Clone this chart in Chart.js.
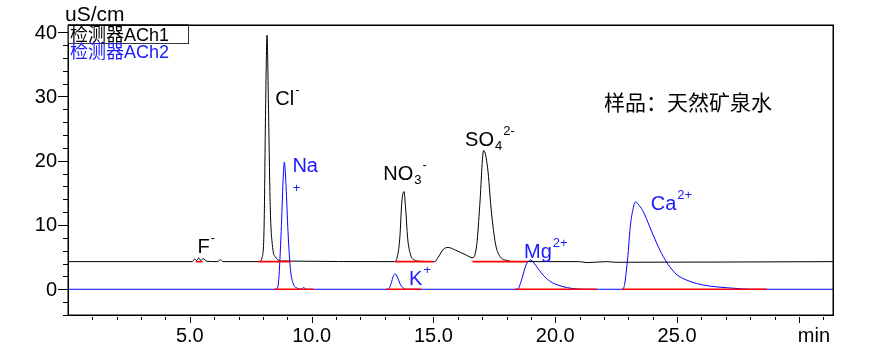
<!DOCTYPE html>
<html>
<head>
<meta charset="utf-8">
<script src="https://cdn.jsdelivr.net/npm/chart.js@4.4.1/dist/chart.umd.min.js"></script>
<style>
body { margin: 0; background: #ffffff; }
canvas { display: block; }
</style>
</head>
<body>
<canvas id="chromChart" width="888" height="349"></canvas>
<script>
// detector ACh1 (anions), min / uS/cm
var ch1Times = [0, 5.1, 5.2, 5.28, 5.36, 5.45, 5.55, 5.7, 6.15, 6.25, 6.35, 7.85, 7.97, 8.05, 8.11, 8.17, 8.23, 8.3, 8.4, 8.52, 8.8,
    13.4, 13.5, 13.62, 13.7, 13.79, 13.86, 13.94, 14.05, 14.25, 14.5, 15.05, 15.2, 15.4, 15.6, 15.9, 16.3, 16.62, 16.78, 16.9, 17.06,
    17.22, 17.38, 17.55, 17.75, 18.0, 18.3, 21.0, 21.3, 22.1, 22.5, 31.4];
var ch1Values = [4.3, 4.3, 4.7, 4.45, 4.85, 4.5, 4.75, 4.35, 4.3, 4.6, 4.3, 4.3, 5.0, 10, 28, 39.5, 28, 13, 6.5, 5.0, 4.4,
    4.3, 4.8, 8, 13.5, 15.2, 12.5, 8, 5.5, 4.5, 4.35, 4.3, 5.0, 6.2, 6.5, 6.1, 5.4, 4.9, 7, 13, 21.6,
    19, 12, 7, 5.0, 4.5, 4.3, 4.3, 4.15, 4.3, 4.2, 4.3];

// detector ACh2 (cations)
var ch2Times = [0, 8.55, 8.65, 8.75, 8.83, 8.88, 8.95, 9.03, 9.12, 9.25, 9.4, 9.6, 9.68, 9.75,
    13.15, 13.26, 13.36, 13.43, 13.52, 13.65, 13.8, 13.9,
    18.45, 18.62, 18.8, 19.0, 19.2, 19.5, 19.8, 20.0, 20.5, 20.9, 21.2,
    22.75, 22.85, 22.93, 23.0, 23.06, 23.17, 23.3, 23.45, 23.61, 23.88, 24.16, 24.43, 24.7, 24.98, 25.38, 25.8, 26.34, 27.0, 27.7, 28.0, 31.4];
var ch2Values = [0, 0, 1.5, 9, 17, 19.8, 16, 9, 3.5, 0.8, 0.2, 0.05, 0.3, 0,
    0, 0.9, 2.1, 2.4, 1.9, 0.7, 0.1, 0,
    0, 1.5, 3.8, 4.55, 3.7, 2.2, 1.2, 0.8, 0.25, 0.05, 0,
    0, 0.8, 3.3, 6, 9.0, 12.1, 13.6, 13.0, 12.1, 9.7, 7.2, 5.1, 3.5, 2.3, 1.45, 0.9, 0.5, 0.25, 0.05, 0, 0];

// integration baselines [start, end]
var ch1BaseLevel = 4.3;
var ch1Baselines = [[5.24, 5.52], [7.81, 9.13], [13.43, 14.99], [16.6, 18.84]];
var ch2BaseLevel = 0;
var ch2Baselines = [[8.47, 10.07], [13.06, 14.49], [18.35, 21.7], [22.73, 28.68]];

var xMajorTicks = [5, 10, 15, 20, 25, 30];
var xTickLabels = ['5.0', '10.0', '15.0', '20.0', '25.0', 'min'];
var yMajorTicks = [0, 10, 20, 30, 40];
var yTickLabels = ['0', '10', '20', '30', '40'];

var seriesNames = ['检测器ACh1', '检测器ACh2'];
var yUnit = 'uS/cm';
var sampleText = '样品：天然矿泉水';

// peak names: parts of [text, 'n' | 'sup' | 'sub'], anchored at [time, value]
var peakLabels = [
    { at: [5.32, 5.65], ch: 0, parts: [['F', 'n'], ['-', 'sup']] },
    { at: [8.51, 28.7], ch: 0, parts: [['Cl', 'n'], ['-', 'sup']] },
    { at: [12.94, 17.0], ch: 0, parts: [['NO', 'n'], ['3', 'sub'], ['-', 'sup']] },
    { at: [16.3, 22.3], ch: 0, parts: [['SO', 'n'], ['4', 'sub'], ['2-', 'sup']] },
    { at: [9.21, 18.2], ch: 1, parts: [['Na', 'n']] },
    { at: [9.22, 15.1], ch: 1, parts: [['+', 'sup0']] },
    { at: [14.0, 0.67], ch: 1, parts: [['K', 'n'], ['+', 'sup']] },
    { at: [18.72, 4.8], ch: 1, parts: [['Mg', 'n'], ['2+', 'sup']] },
    { at: [23.92, 12.3], ch: 1, parts: [['Ca', 'n'], ['2+', 'sup']] }
];
var sampleAt = [22.0, 27.9];

var TEXT_FONT = '"Liberation Sans", Arial, "Noto Sans CJK SC", sans-serif';
var colors = ['#000000', '#0000ff'];
var textColors = ['#000000', '#1a1aff'];

function toPoints(times, values) {
    var pts = [];
    for (var i = 0; i < times.length; i++) pts.push({ x: times[i], y: values[i] });
    return pts;
}

function baselineSets(segs, level) {
    return segs.map(function(s) {
        return {
            data: [{ x: s[0], y: level }, { x: s[1], y: level }],
            borderColor: '#ff0000',
            borderWidth: 1.6,
            pointRadius: 0,
            order: 0
        };
    });
}

var frameAxes = {
    id: 'frameAxes',
    afterDraw: function(chart) {
        var ctx = chart.ctx;
        var a = chart.chartArea;
        var xs = chart.scales.x;
        var ys = chart.scales.y;
        ctx.save();

        // frame
        ctx.strokeStyle = '#000000';
        ctx.lineWidth = 1.5;
        ctx.strokeRect(Math.round(a.left) + 0.25, Math.round(a.top) + 0.25,
            Math.round(a.right - a.left), Math.round(a.bottom - a.top));

        // x ticks
        ctx.lineWidth = 1;
        ctx.beginPath();
        for (var t = Math.ceil(xs.min) + 1; t <= Math.floor(xs.max); t++) {
            var px = Math.round(xs.getPixelForValue(t)) + 0.5;
            var major = xMajorTicks.indexOf(t) >= 0;
            ctx.moveTo(px, a.bottom + 2);
            ctx.lineTo(px, a.bottom + (major ? 8 : 5));
        }
        // y ticks
        for (var v = Math.ceil(ys.min / 2) * 2; v <= ys.max; v += 2) {
            var py = Math.round(ys.getPixelForValue(v)) + 0.5;
            var ymaj = yMajorTicks.indexOf(v) >= 0;
            ctx.moveTo(a.left - (ymaj ? 10 : 5), py);
            ctx.lineTo(a.left, py);
        }
        ctx.stroke();

        // tick labels
        ctx.fillStyle = '#000000';
        ctx.font = '20px ' + TEXT_FONT;
        ctx.textAlign = 'center';
        ctx.textBaseline = 'alphabetic';
        xMajorTicks.forEach(function(t, i) {
            var off = xTickLabels[i] === 'min' ? 15 : 0;
            ctx.fillText(xTickLabels[i], xs.getPixelForValue(t) + off, a.bottom + 27);
        });
        ctx.textAlign = 'right';
        ctx.textBaseline = 'middle';
        yMajorTicks.forEach(function(v, i) {
            ctx.fillText(yTickLabels[i], a.left - 11, ys.getPixelForValue(v) + 1);
        });

        // unit
        ctx.textAlign = 'left';
        ctx.textBaseline = 'alphabetic';
        ctx.font = '21px ' + TEXT_FONT;
        ctx.fillText(yUnit, a.left - 3, a.top - 4);

        // series legend
        ctx.lineWidth = 1;
        ctx.strokeStyle = '#333333';
        ctx.strokeRect(a.left + 0.5, a.top - 0.5, 120, 19);
        ctx.font = '18px ' + TEXT_FONT;
        ctx.fillStyle = textColors[0];
        ctx.fillText(seriesNames[0], a.left + 2, a.top + 16);
        ctx.fillStyle = textColors[1];
        ctx.fillText(seriesNames[1], a.left + 2, a.top + 33);

        // sample name
        ctx.fillStyle = '#000000';
        ctx.font = '21px ' + TEXT_FONT;
        ctx.fillText(sampleText, xs.getPixelForValue(sampleAt[0]), ys.getPixelForValue(sampleAt[1]));

        // peak names
        peakLabels.forEach(function(lab) {
            var x = xs.getPixelForValue(lab.at[0]);
            var y = ys.getPixelForValue(lab.at[1]);
            ctx.fillStyle = textColors[lab.ch];
            lab.parts.forEach(function(p) {
                var dy = 0;
                if (p[1] === 'n') ctx.font = '20px ' + TEXT_FONT;
                else ctx.font = '13px ' + TEXT_FONT;
                if (p[1] === 'sup') dy = -11;
                if (p[1] === 'sub') dy = 4;
                ctx.fillText(p[0], x, y + dy);
                x += ctx.measureText(p[0]).width + (p[1] === 'n' ? 1 : 1);
            });
        });
        ctx.restore();
    }
};

var datasets = baselineSets(ch1Baselines, ch1BaseLevel).concat(baselineSets(ch2Baselines, ch2BaseLevel));
datasets.push({
    label: seriesNames[0],
    data: toPoints(ch1Times, ch1Values),
    borderColor: colors[0],
    borderWidth: 1,
    pointRadius: 0,
    cubicInterpolationMode: 'monotone',
    order: 1
});
datasets.push({
    label: seriesNames[1],
    data: toPoints(ch2Times, ch2Values),
    borderColor: colors[1],
    borderWidth: 1,
    pointRadius: 0,
    cubicInterpolationMode: 'monotone',
    order: 2
});

new Chart(document.getElementById('chromChart').getContext('2d'), {
    type: 'line',
    data: { datasets: datasets },
    options: {
        responsive: false,
        animation: false,
        devicePixelRatio: 1,
        layout: { padding: { left: 68, right: 55, top: 25, bottom: 34 } },
        plugins: { legend: { display: false }, tooltip: { enabled: false } },
        scales: {
            x: { type: 'linear', display: false, min: 0, max: 31.4 },
            y: { type: 'linear', display: false, min: -4, max: 41.1 }
        }
    },
    plugins: [frameAxes]
});
</script>
</body>
</html>
